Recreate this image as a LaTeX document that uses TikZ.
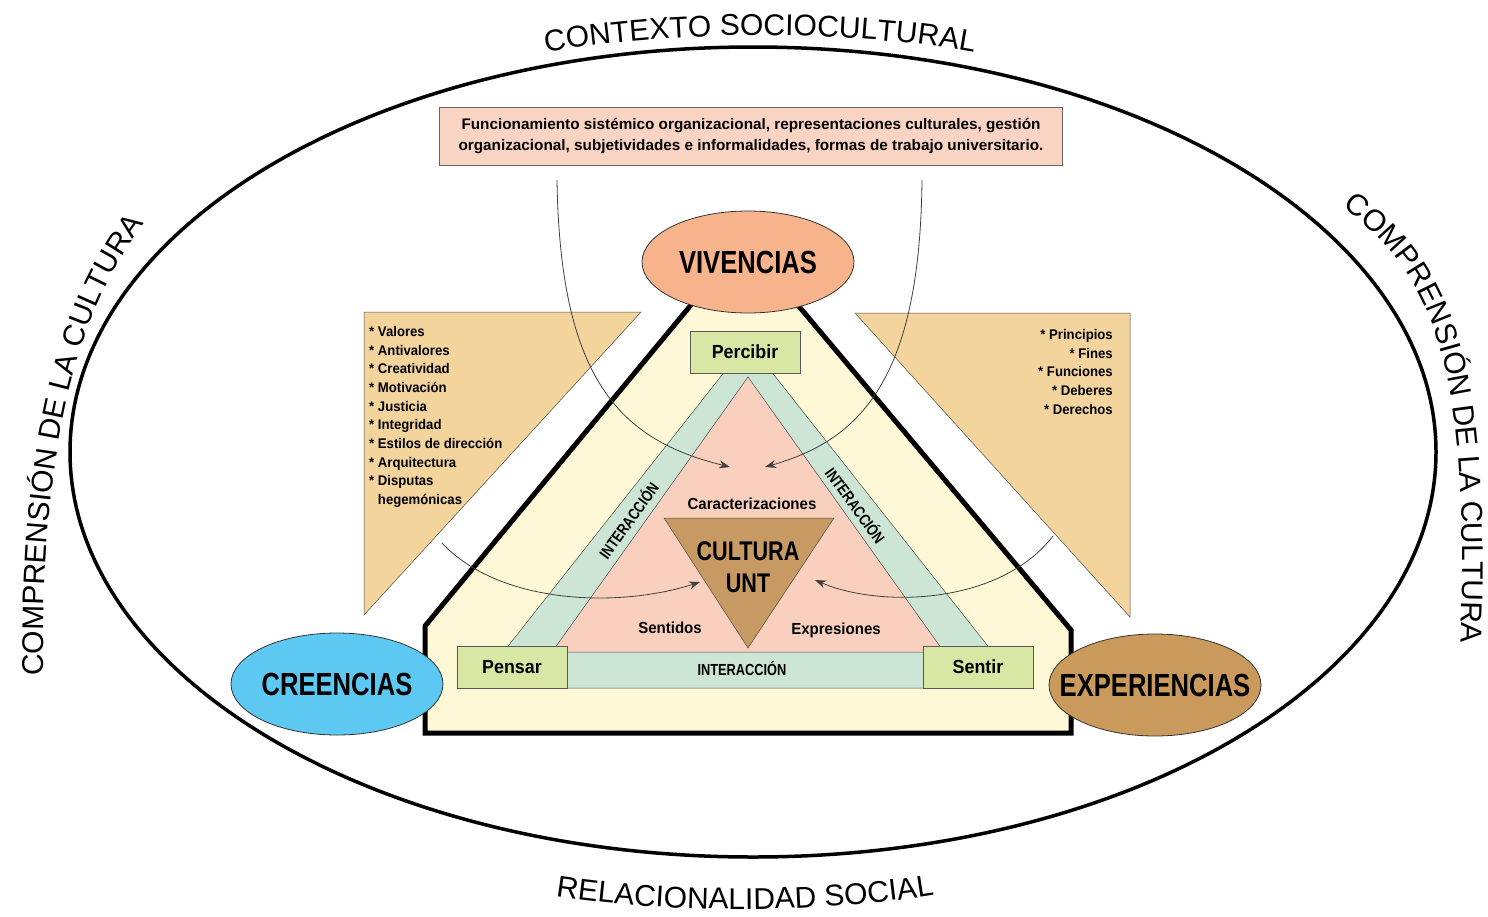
\documentclass[tikz,border=0pt]{standalone}
\usepackage{fontspec}
\setmainfont{Liberation Sans}
\newfontfamily\estrecha[FakeStretch=0.8]{Liberation Sans}
\newfontfamily\media[FakeStretch=0.94]{Liberation Sans}
\usetikzlibrary{shapes.geometric,decorations.text,arrows.meta}

\definecolor{salmon}{HTML}{FAD4C2}
\definecolor{vivencia}{HTML}{F7B48C}
\definecolor{creencia}{HTML}{5DC9F3}
\definecolor{experiencia}{HTML}{C99A5B}
\definecolor{arena}{HTML}{F2D49C}
\definecolor{crema}{HTML}{FFF8D6}
\definecolor{menta}{HTML}{CDE5D5}
\definecolor{rosa}{HTML}{F9D0BD}
\definecolor{verdoso}{HTML}{D8E7A3}
\definecolor{cafe}{HTML}{C69A62}

\newcommand{\rimfont}{\fontsize{30}{30}\selectfont}

\begin{document}
\begin{tikzpicture}[x=1pt, y=-1pt,
    caja/.style={draw=gray!70!black, fill=verdoso, minimum width=110pt, minimum height=42pt,
      inner sep=0pt, font=\media\bfseries\fontsize{19}{19}\selectfont},
    globo/.style={ellipse, draw=black!80, line width=0.8pt, minimum width=212pt,
      minimum height=102pt, inner sep=0pt, font=\estrecha\bfseries\fontsize{32}{32}\selectfont},
    flecha/.style={draw=black!75, line width=0.8pt, -{Stealth[length=11pt,width=8pt]}},
    etiqueta/.style={font=\media\bfseries\fontsize{16}{16}\selectfont},
    inter/.style={font=\estrecha\bfseries\fontsize{16}{16}\selectfont},
    lista/.style={font=\media\bfseries\fontsize{14}{18.7}\selectfont, inner sep=0pt},
    borde/.style={draw=gray!60!black, line width=0.5pt},
    rotulo/.style={decorate, decoration={text along path, text align=center,
      text={|\rimfont|#1}}}
  ]
  % Fondo
  \fill[white] (0,0) rectangle (1488,916);
  \useasboundingbox (0,0) rectangle (1488,916);

  % Elipse exterior
  \draw[line width=3.5pt] (753,452) ellipse (683 and 405);

  % Rotulos curvos
  \path[rotulo={CONTEXTO SOCIOCULTURAL}] (520,58) .. controls (650,28) and (870,28) .. (1000,58);
  \path[rotulo={RELACIONALIDAD SOCIAL}] (520,890) .. controls (650,916) and (840,916) .. (970,888);
  \path[rotulo={COMPRENSIÓN DE LA CULTURA}] (44,700) .. controls (40,520) and (55,320) .. (160,205);
  \path[rotulo={COMPRENSIÓN DE LA CULTURA}] (1328,197) .. controls (1436,270) and (1472,360) .. (1460,660);

  % Recuadro superior
  \node[draw=gray!80!black, fill=salmon, minimum width=623pt, minimum height=58pt, inner sep=0pt,
    align=center, font=\bfseries\fontsize{15.3}{21}\selectfont] (marco) at (751,136)
    {Funcionamiento sistémico organizacional, representaciones culturales, gestión\\
     organizacional, subjetividades e informalidades, formas de trabajo universitario.};

  % Triangulos laterales
  \draw[borde, fill=arena] (364,312) -- (641,312) -- (364,615) -- cycle;
  \draw[borde, fill=arena] (855,313) -- (1130,313) -- (1130,617) -- cycle;

  % Listas
  \node[lista, anchor=north west, align=left] (valores) at (369,326)
    {* Valores\\ * Antivalores\\ * Creatividad\\ * Motivación\\ * Justicia\\ * Integridad\\
     * Estilos de dirección\\ * Arquitectura\\ * Disputas\\ \phantom{* }hegemónicas};
  \node[lista, anchor=north east, align=right] (principios) at (1113,329)
    {* Principios\\ * Fines\\ * Funciones\\ * Deberes\\ * Derechos};

  % Contorno principal
  \draw[line width=5pt, fill=crema] (744,241) -- (425,626) -- (425,733) -- (1071,733)
    -- (1071,630) -- cycle;

  % Banda de interaccion y triangulo interior
  \draw[borde, fill=menta] (748,342) -- (475,688) -- (1021,688) -- cycle;
  \draw[borde, fill=rosa] (748,377) -- (552,652) -- (944,652) -- cycle;
  \draw[borde, fill=cafe] (664,518) -- (834,518) -- (748,648) -- cycle;

  % Cajas
  \node[caja] (percibir) at (745,352) {Percibir};
  \node[caja] (pensar) at (512,667) {Pensar};
  \node[caja] (sentir) at (978,667) {Sentir};

  % Elipses
  \node[globo, fill=vivencia] (vivencias) at (748,262) {\makebox[0pt]{VIVENCIAS}};
  \node[globo, fill=creencia] (creencias) at (337,684) {\makebox[0pt]{CREENCIAS}};
  \node[globo, fill=experiencia] (experiencias) at (1155,685) {\makebox[0pt]{EXPERIENCIAS}};

  % Textos interiores
  \node[align=center, font=\estrecha\bfseries\fontsize{27}{32}\selectfont] (cultura) at (748,567) {CULTURA\\UNT};
  \node[etiqueta] (caract) at (752,504) {Caracterizaciones};
  \node[etiqueta] (sentidos) at (670,628) {Sentidos};
  \node[etiqueta] (expres) at (836,630) {Expresiones};
  \node[inter, rotate=54] (inter-i) at (628,520) {INTERACCIÓN};
  \node[inter, rotate=-54] (inter-d) at (856,505) {INTERACCIÓN};
  \node[inter] (inter-b) at (742,668) {INTERACCIÓN};

  % Flechas
  \coordinate (ini-a) at (557,180);
  \coordinate (fin-a) at (730,467);
  \coordinate (ini-b) at (922,180);
  \coordinate (fin-b) at (765,467);
  \coordinate (ini-c) at (442,543);
  \coordinate (fin-c) at (700,582);
  \coordinate (ini-d) at (1053,536);
  \coordinate (fin-d) at (815,580);
  \draw[flecha] (ini-a) .. controls (560,380) and (620,440) .. (fin-a);
  \draw[flecha] (ini-b) .. controls (920,380) and (860,440) .. (fin-b);
  \draw[flecha] (ini-c) .. controls (500,605) and (620,608) .. (fin-c);
  \draw[flecha] (ini-d) .. controls (1000,605) and (880,608) .. (fin-d);
\end{tikzpicture}
\end{document}
